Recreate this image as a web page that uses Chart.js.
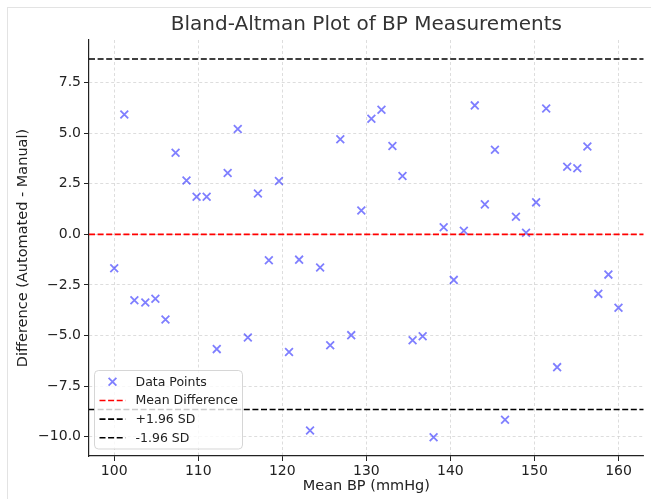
<!DOCTYPE html>
<html><head><meta charset="utf-8">
<script src="https://cdn.jsdelivr.net/npm/chart.js@4"></script>
<style>
html,body{margin:0;padding:0;background:#fff;overflow:hidden;}
#frame{position:absolute;left:7px;top:7px;width:700px;height:600px;border:1px solid #e3e3e3;box-sizing:border-box;}
#wrap{position:absolute;left:0;top:0;width:651px;height:499px;}
</style></head><body>
<div id="frame"></div>
<div id="wrap"><canvas id="c" width="651" height="499"></canvas></div>
<script>
// ---- data ----
const meanBP = [100.0,101.2,102.4,103.7,104.9,106.1,107.3,108.6,109.8,111.0,
  112.2,113.5,114.7,115.9,117.1,118.4,119.6,120.8,122.0,123.3,
  124.5,125.7,126.9,128.2,129.4,130.6,131.8,133.1,134.3,135.5,
  136.7,138.0,139.2,140.4,141.6,142.9,144.1,145.3,146.5,147.8,
  149.0,150.2,151.4,152.7,153.9,155.1,156.3,157.6,158.8,160.0];
const diffs = [-1.68,5.92,-3.26,-3.37,-3.18,-4.21,4.03,2.66,1.86,1.86,
  -5.67,3.03,5.20,-5.10,2.02,-1.28,2.63,-5.81,-1.25,-9.69,
  -1.64,-5.48,4.70,-4.98,1.18,5.71,6.15,4.36,2.88,-5.23,
  -5.03,-10.02,0.35,-2.25,0.18,6.37,1.48,4.18,-9.16,0.87,
  0.08,1.58,6.22,-6.56,3.34,3.26,4.34,-2.94,-1.99,-3.63];
const meanDiff = 0.0;
const upperLoA = 8.66;
const lowerLoA = -8.65;
const xRange = [97, 163];
const yRange = [-10.95, 9.6];
const xTicks = [100,110,120,130,140,150,160];
const xTickLabels = ['100','110','120','130','140','150','160'];
const yTicks = [-10,-7.5,-5,-2.5,0,2.5,5,7.5];
const yTickLabels = ['\u221210.0','\u22127.5','\u22125.0','\u22122.5','0.0','2.5','5.0','7.5'];
const seriesLabels = ['Data Points','Mean Difference','+1.96 SD','-1.96 SD'];
const titleText = 'Bland-Altman Plot of BP Measurements';
const xTitle = 'Mean BP (mmHg)';
const yTitle = 'Difference (Automated - Manual)';

const FONT = "'DejaVu Sans', 'Liberation Sans', sans-serif";
const hline = v => [{x:xRange[0], y:v},{x:xRange[1], y:v}];

const legendBox = {
  id: 'legendBox',
  afterDatasetsDraw(chart) {
    const ctx = chart.ctx, a = chart.chartArea;
    const w = 148, h = 78.5, rowH = 18.67;
    const x0 = a.left + 5.5, y1 = a.bottom - 7, y0 = y1 - h;
    ctx.save();
    ctx.beginPath();
    ctx.roundRect(x0, y0, w, h, 4);
    ctx.fillStyle = 'rgba(255,255,255,0.8)';
    ctx.fill();
    ctx.lineWidth = 1;
    ctx.strokeStyle = 'rgba(204,204,204,0.8)';
    ctx.stroke();
    ctx.font = '12.5px ' + FONT;
    ctx.textBaseline = 'middle';
    ctx.textAlign = 'left';
    chart.data.datasets.forEach((ds, i) => {
      const cy = y0 + 11.3 + i * rowH;
      if (ds.type === 'line') {
        ctx.save();
        ctx.strokeStyle = ds.borderColor;
        ctx.lineWidth = ds.borderWidth;
        ctx.setLineDash(ds.borderDash);
        ctx.beginPath();
        ctx.moveTo(x0 + 5, cy);
        ctx.lineTo(x0 + 31, cy);
        ctx.stroke();
        ctx.restore();
      } else {
        ctx.save();
        ctx.strokeStyle = ds.borderColor;
        ctx.fillStyle = ds.backgroundColor;
        ctx.lineWidth = ds.borderWidth;
        Chart.helpers.drawPoint(ctx, {pointStyle: ds.pointStyle, radius: ds.pointRadius, rotation: 0, borderWidth: ds.borderWidth}, x0 + 18, cy);
        ctx.restore();
      }
      ctx.fillStyle = '#222';
      ctx.fillText(ds.label, x0 + 41, cy + 0.5);
    });
    ctx.restore();
  }
};

new Chart(document.getElementById('c'), {
  type: 'scatter',
  data: {
    datasets: [
      { label: seriesLabels[0], data: meanBP.map((x, i) => ({x, y: diffs[i]})),
        pointStyle: 'crossRot', pointRadius: 5.5, borderWidth: 1.8,
        borderColor: 'rgba(0,0,255,0.5)', backgroundColor: 'rgba(0,0,255,0.5)', order: 4 },
      { type: 'line', label: seriesLabels[1], data: hline(meanDiff), borderColor: '#ff0000',
        borderWidth: 1.6, borderDash: [6, 2.6], pointRadius: 0, fill: false, order: 3 },
      { type: 'line', label: seriesLabels[2], data: hline(upperLoA), borderColor: '#000000',
        borderWidth: 1.6, borderDash: [6, 2.6], pointRadius: 0, fill: false, order: 2 },
      { type: 'line', label: seriesLabels[3], data: hline(lowerLoA), borderColor: '#000000',
        borderWidth: 1.6, borderDash: [6, 2.6], pointRadius: 0, fill: false, order: 1 }
    ]
  },
  options: {
    responsive: false,
    animation: false,
    devicePixelRatio: 1,
    events: [],
    layout: { padding: { left: 0, right: 4, top: 0, bottom: 0 } },
    plugins: {
      legend: { display: false },
      tooltip: { enabled: false },
      title: { display: true, text: titleText, fullSize: false, color: '#333',
        font: { family: FONT, size: 20, weight: 'normal' }, padding: { top: 13, bottom: 3 } }
    },
    scales: {
      x: {
        type: 'linear', min: xRange[0], max: xRange[1],
        afterBuildTicks: s => { s.ticks = xTicks.map(v => ({value: v})); },
        afterFit: s => { s.height = 43; },
        grid: { color: '#d4d4d4', lineWidth: 0.8, tickColor: '#222', tickLength: 5, tickWidth: 1, tickBorderDash: [] },
        border: { display: true, color: '#222', width: 1.2, dash: [3, 2.5] },
        ticks: { color: '#222', font: { family: FONT, size: 14 }, padding: 2, maxRotation: 0, autoSkip: false,
          callback: v => xTickLabels[xTicks.indexOf(v)] },
        title: { display: true, text: xTitle, color: '#222', font: { family: FONT, size: 14.5 }, padding: { top: 0, bottom: 4 } }
      },
      y: {
        type: 'linear', min: yRange[0], max: yRange[1],
        afterBuildTicks: s => { s.ticks = yTicks.map(v => ({value: v})); },
        afterFit: s => { s.width = 89; },
        grid: { color: '#d4d4d4', lineWidth: 0.8, tickColor: '#222', tickLength: 5, tickWidth: 1, tickBorderDash: [] },
        border: { display: true, color: '#222', width: 1.2, dash: [3, 2.5] },
        ticks: { color: '#222', font: { family: FONT, size: 14 }, padding: 3, autoSkip: false,
          callback: v => yTickLabels[yTicks.indexOf(v)] },
        title: { display: true, text: yTitle, color: '#222', font: { family: FONT, size: 14.5 }, padding: { top: 15, bottom: 4 } }
      }
    }
  },
  plugins: [legendBox]
});
</script>
</body></html>
